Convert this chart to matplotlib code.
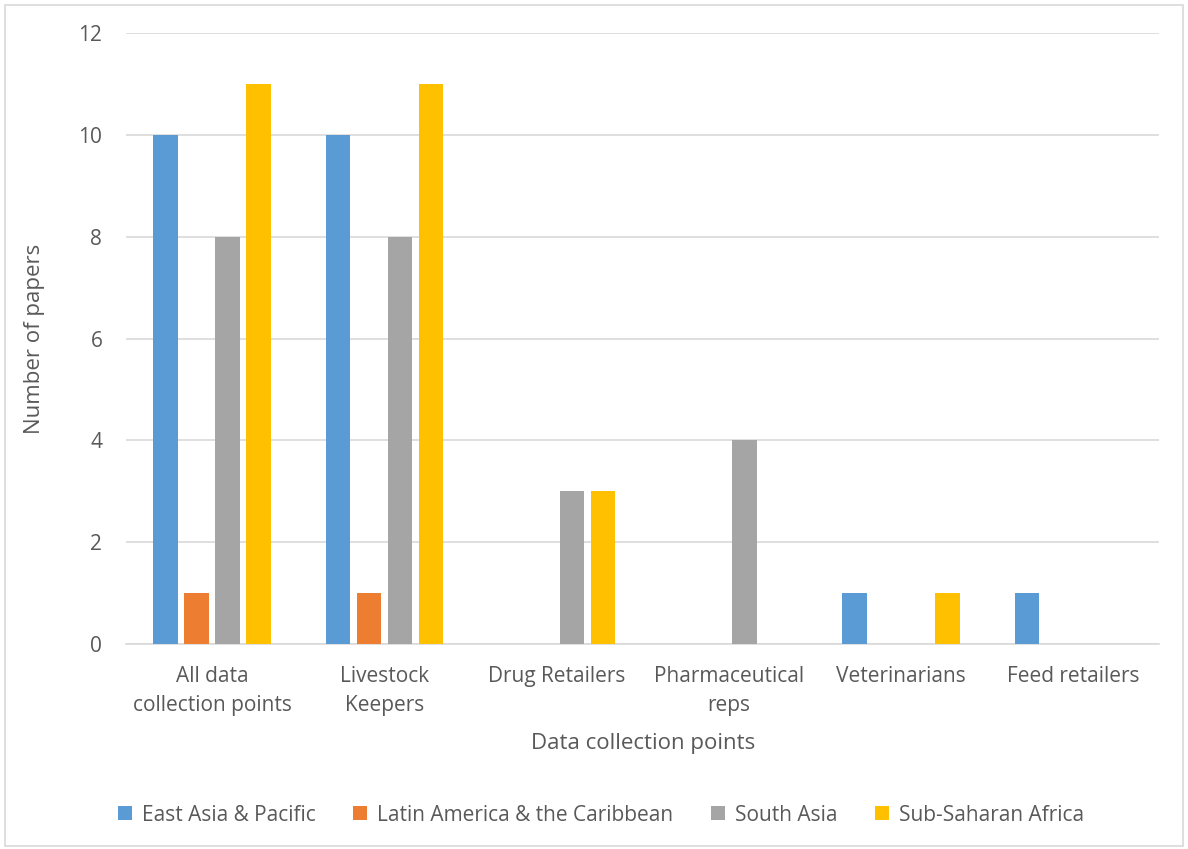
import numpy as np
import matplotlib.pyplot as plt
from matplotlib.patches import Rectangle

categories = ["All data\ncollection points", "Livestock\nKeepers", "Drug Retailers",
              "Pharmaceutical\nreps", "Veterinarians", "Feed retailers"]
regions = ["East Asia & Pacific", "Latin America & the Caribbean", "South Asia", "Sub-Saharan Africa"]
east_asia = [10, 10, 0, 0, 1, 1]
latin_america = [1, 1, 0, 0, 0, 0]
south_asia = [8, 8, 3, 4, 0, 0]
ss_africa = [11, 11, 3, 0, 1, 0]
yticks = [0, 2, 4, 6, 8, 10, 12]

colors = ["#5b9bd5", "#ed7d31", "#a5a5a5", "#ffc000"]
text_color = "#595959"

plt.rcParams['font.family'] = ['Open Sans', 'DejaVu Sans']

fig = plt.figure(figsize=(11.88, 8.49), dpi=100)
ax = fig.add_axes([0.106, 0.2415, 0.87, 0.7195])

x = np.arange(len(categories))
width = 0.142
step = 0.18
series = [east_asia, latin_america, south_asia, ss_africa]
for k, (vals, name, c) in enumerate(zip(series, regions, colors)):
    ax.bar(x + (k - 1.5) * step, vals, width, color=c, label=name, zorder=3)

ax.set_xlim(-0.5, len(categories) - 0.5)
ax.set_ylim(0, 12)
ax.set_yticks(yticks)
ax.set_xticks(x)
ax.set_xticklabels(categories, fontsize=15, color=text_color, linespacing=1.5)
ax.tick_params(axis='y', labelsize=15, labelcolor=text_color, length=0, pad=17)
ax.tick_params(axis='x', length=0, pad=16)
ax.grid(axis='y', color='#d9d9d9', linewidth=1.2, zorder=0)
for s in ["top", "right", "left"]:
    ax.spines[s].set_visible(False)
ax.spines["bottom"].set_color('#d9d9d9')
ax.spines["bottom"].set_linewidth(1.2)

ax.set_ylabel("Number of papers", fontsize=16, color=text_color, labelpad=24)
ax.set_xlabel("Data collection points", fontsize=16, color=text_color, labelpad=12)

handles, labels = ax.get_legend_handles_labels()
fig.legend(handles, labels, loc='center', bbox_to_anchor=(0.506, 0.04), ncol=4,
           frameon=False, fontsize=15, labelcolor=text_color, handlelength=0.65,
           handleheight=0.65, handletextpad=0.5, columnspacing=1.8)

fig.patches.append(Rectangle((0.004, 0.004), 0.992, 0.99, transform=fig.transFigure,
                             fill=False, edgecolor='#d9d9d9', linewidth=1.2))

fig.savefig("out.png", dpi=100)
